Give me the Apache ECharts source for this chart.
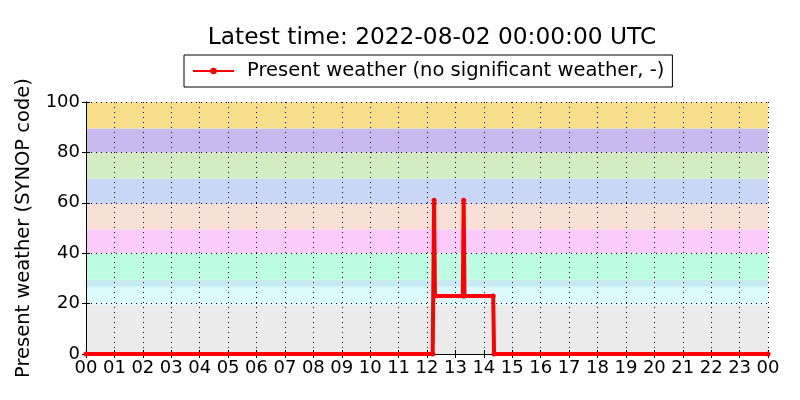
<!DOCTYPE html>
<html>
<head>
<meta charset="utf-8">
<script src="https://cdn.jsdelivr.net/npm/echarts@6/dist/echarts.min.js"></script>
<style>
  html, body { margin: 0; padding: 0; background: #fff; }
  #chart { width: 800px; height: 400px; }
</style>
</head>
<body>
<div id="chart"></div>
<script>
// Heures (UTC, depuis 2022-08-01 00:00) et code SYNOP
const hours = [0, 12.2, 12.25, 12.28, 13.26, 13.29, 13.32, 14.33, 14.36, 24];
const codes = [0, 0, 61, 23, 23, 61, 23, 23, 0, 0];

// Bandes de fond par classe de code SYNOP
const bandFrom = [0, 19.5, 26.7, 29.5, 40, 49.5, 59.5, 69.5, 80, 89.5];
const bandTo = [19.5, 26.7, 29.5, 40, 49.5, 59.5, 69.5, 80, 89.5, 100];
const bandColors = [
  '#ebebeb', '#dcfbfd', '#c6ebf2', '#bcfde3', '#fbcbfb',
  '#f8e0d7', '#c9d6f5', '#d4ecc4', '#c8b9ee', '#f7de8a'
];

const titleText = 'Latest time: 2022-08-02 00:00:00 UTC';
const seriesName = 'Present weather (no significant weather, -)';

const pad2 = (v) => String(v % 24).padStart(2, '0');
const FONT = 'DejaVu Sans';

const chart = echarts.init(document.getElementById('chart'));

const dotted = { color: '#000', width: 1, type: [1, 4] };

const option = {
  backgroundColor: '#fff',
  animation: false,
  textStyle: { fontFamily: FONT },
  title: {
    text: titleText,
    left: 427,
    textAlign: 'center',
    top: 21,
    textStyle: { fontFamily: FONT, fontSize: 23.3, fontWeight: 'normal', color: '#000' }
  },
  legend: {
    data: [seriesName],
    left: 184,
    top: 55,
    padding: [6, 8, 6, 8],
    borderColor: '#000',
    borderWidth: 1,
    itemWidth: 41,
    itemHeight: 8,
    itemGap: 10,
    textStyle: { fontFamily: FONT, fontSize: 19.5, color: '#000', padding: [0, 0, 0, 8] }
  },
  grid: { left: 86, right: 32, top: 102, bottom: 46, containLabel: false },
  xAxis: [{
    type: 'value',
    min: 0,
    max: 24,
    interval: 1,
    axisLine: { show: true, lineStyle: { color: '#000', width: 1 } },
    axisTick: { show: true, inside: true, length: 4, lineStyle: { color: '#000' } },
    axisLabel: {
      formatter: (v) => pad2(v),
      fontFamily: FONT, fontSize: 18, color: '#000', margin: 5
    },
    splitLine: { show: true, lineStyle: dotted }
  }, {
    type: 'value',
    position: 'top',
    min: 0,
    max: 24,
    interval: 1,
    axisLine: { show: true, lineStyle: { color: '#000', width: 1 } },
    axisTick: { show: true, inside: true, length: 4, lineStyle: { color: '#000' } },
    axisLabel: { show: false },
    splitLine: { show: false }
  }],
  yAxis: [{
    type: 'value',
    min: 0,
    max: 100,
    interval: 20,
    name: 'Present weather (SYNOP code)',
    nameLocation: 'middle',
    nameGap: 52,
    nameTextStyle: { fontFamily: FONT, fontSize: 19.5, color: '#000' },
    axisLine: { show: true, lineStyle: { color: '#000', width: 1 } },
    axisTick: { show: true, inside: true, length: 4, lineStyle: { color: '#000' } },
    axisLabel: { fontFamily: FONT, fontSize: 18, color: '#000', margin: 6 },
    splitLine: { show: true, lineStyle: dotted }
  }, {
    type: 'value',
    position: 'right',
    min: 0,
    max: 100,
    interval: 20,
    axisLine: { show: true, lineStyle: { color: '#000', width: 1 } },
    axisTick: { show: true, inside: true, length: 4, lineStyle: { color: '#000' } },
    axisLabel: { show: false },
    splitLine: { show: false }
  }],
  series: [{
    name: seriesName,
    type: 'line',
    data: hours.map((h, i) => [h, codes[i]]),
    color: '#ff0000',
    lineStyle: { width: 4, color: '#ff0000' },
    symbol: 'circle',
    symbolSize: 5,
    showSymbol: true,
    itemStyle: { color: '#ff0000' },
    z: 5,
    markArea: {
      silent: true,
      z: -1,
      data: bandFrom.map((b, i) => [
        { yAxis: b, itemStyle: { color: bandColors[i], opacity: 1 } },
        { yAxis: bandTo[i] }
      ])
    }
  }]
};

chart.setOption(option);
</script>
</body>
</html>
